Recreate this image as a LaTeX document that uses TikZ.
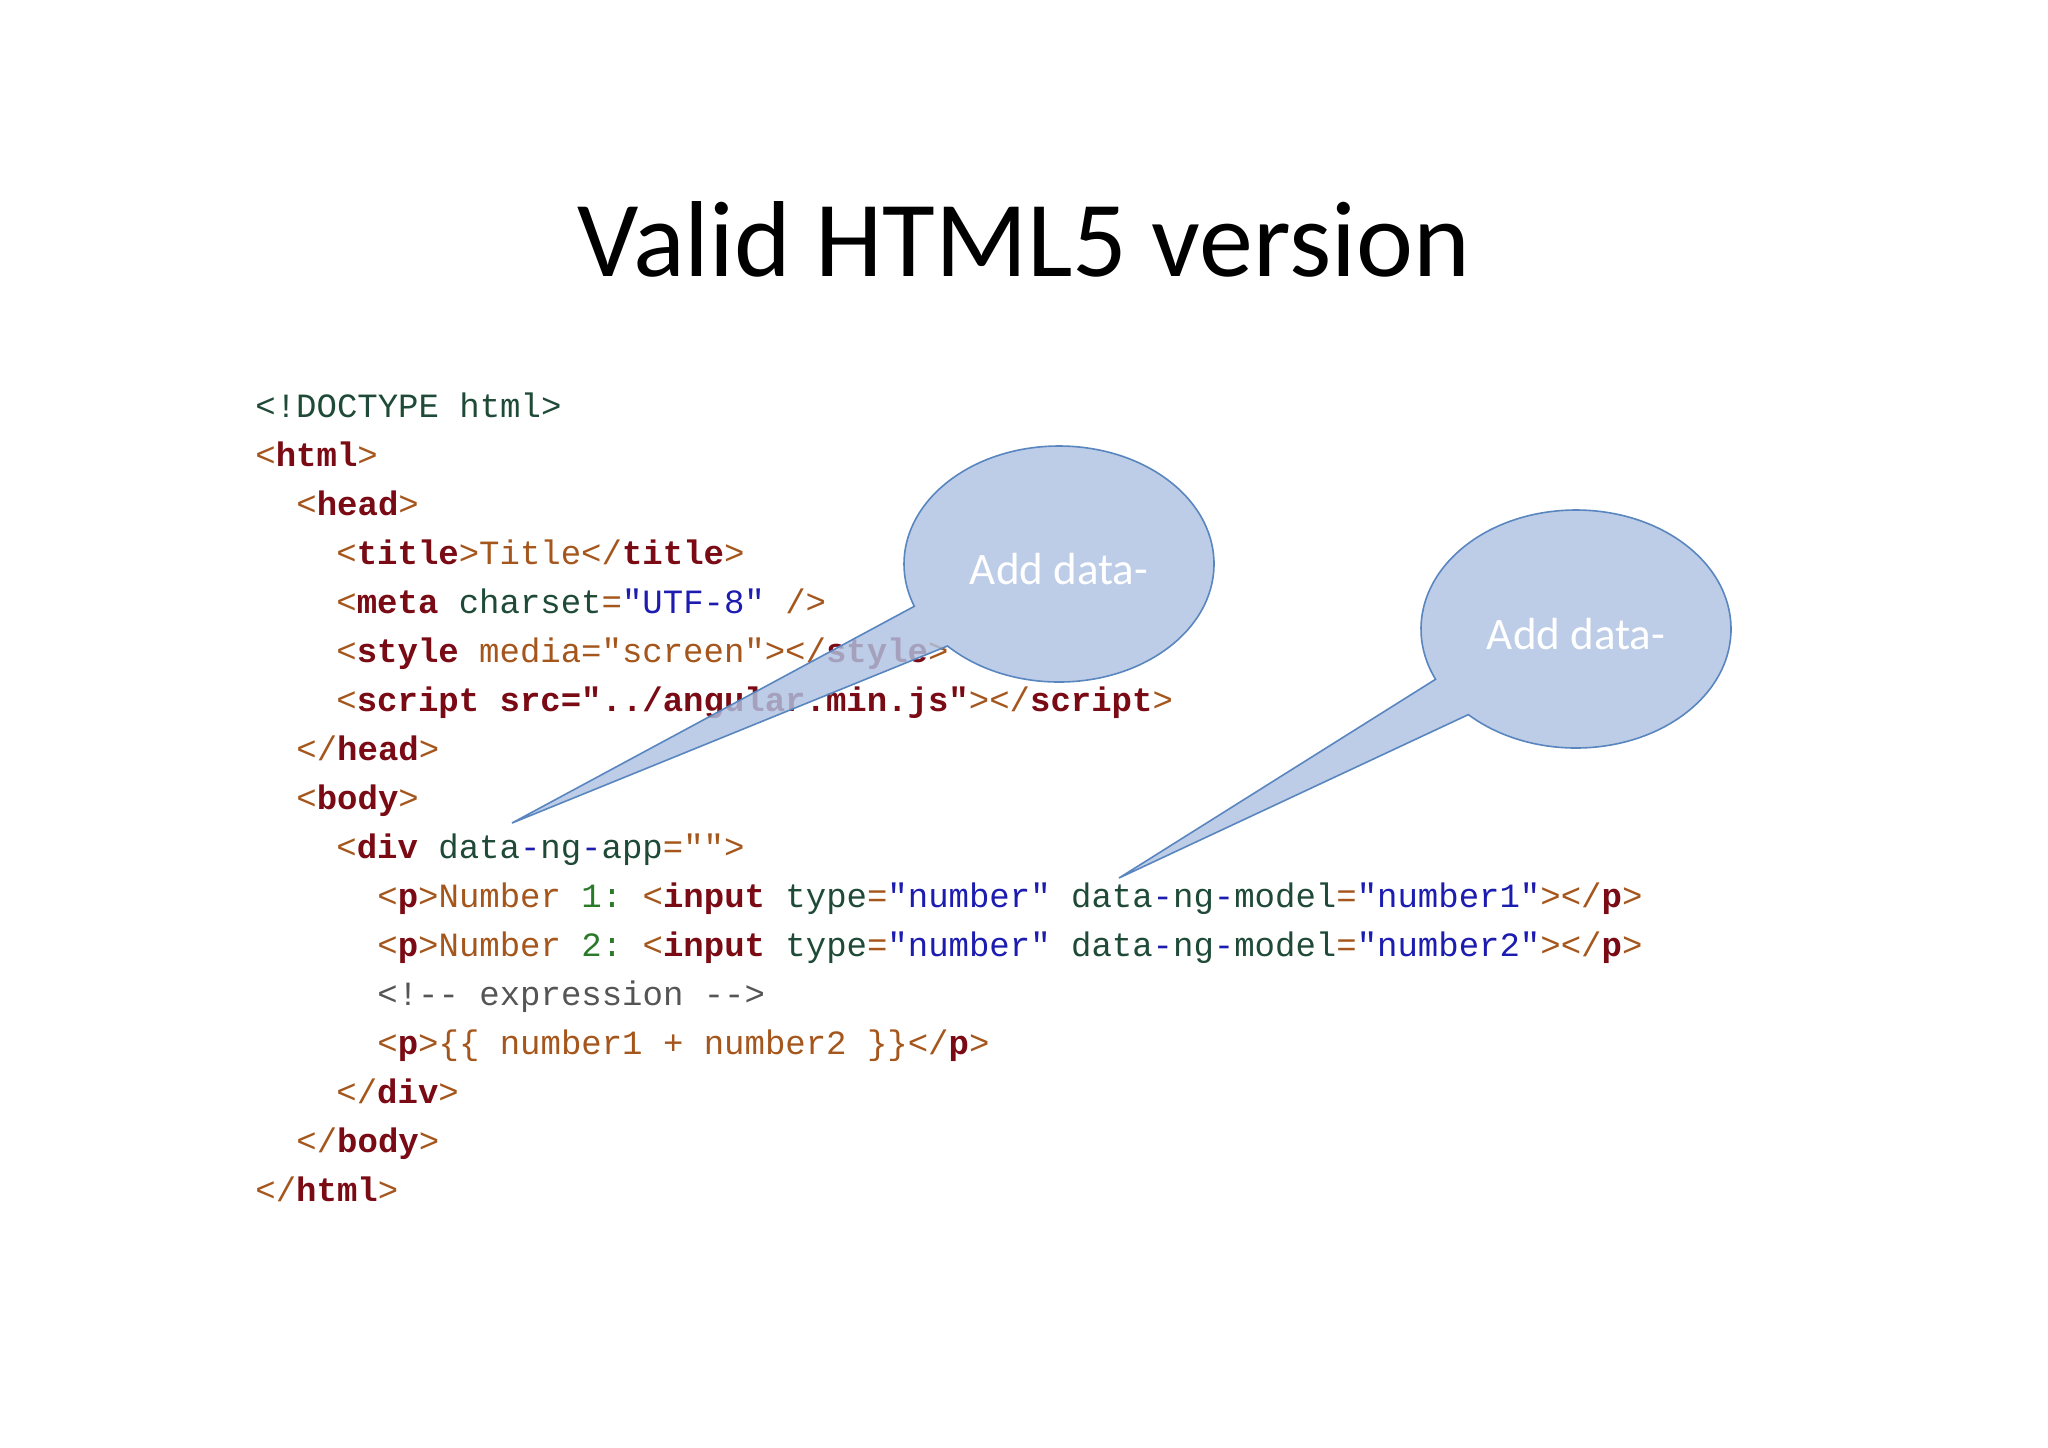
\documentclass[tikz,border=0pt]{standalone}
\usepackage{fontspec}
\usetikzlibrary{calc}
\setmainfont{Carlito}
\setmonofont{Liberation Mono}
\definecolor{tagc}{HTML}{7A0A14}
\definecolor{brk}{HTML}{A5561C}
\definecolor{attr}{HTML}{1E4A37}
\definecolor{valc}{HTML}{1C1CB0}
\definecolor{gr}{HTML}{2A7A2A}
\definecolor{cmt}{HTML}{555555}
\definecolor{bfill}{HTML}{AFC3E3}
\definecolor{bdraw}{HTML}{5A86C0}
\newcommand{\Tg}[1]{\textcolor{tagc}{\bfseries #1}}
\newcommand{\Bk}[1]{\textcolor{brk}{#1}}
\newcommand{\At}[1]{\textcolor{attr}{#1}}
\newcommand{\Vl}[1]{\textcolor{valc}{#1}}
\begin{document}
\begin{tikzpicture}[x=0.5pt,y=-0.5pt,
  codeline/.style={anchor=base west,inner sep=0pt,font=\ttfamily\fontsize{17}{17}\selectfont},
  bubble/.style={fill=bfill,fill opacity=0.82,draw=bdraw,line width=0.8pt},
  btext/.style={text=white,font=\fontsize{22.5}{22.5}\selectfont}]
\useasboundingbox (0,0) rectangle (2048,1447);
\fill[white] (0,0) rectangle (2048,1447);
\node[font=\fontsize{54}{54}\selectfont] (title) at (1024,239) {Valid HTML5 version};
\node[codeline] (l0) at (255,417) {\At{<!DOCTYPE html>}};
\node[codeline] (l1) at (255,466) {\Bk{<}\Tg{html}\Bk{>}};
\node[codeline] (l2) at (296,515) {\Bk{<}\Tg{head}\Bk{>}};
\node[codeline] (l3) at (336,564) {\Bk{<}\Tg{title}\Bk{>Title</}\Tg{title}\Bk{>}};
\node[codeline] (l4) at (336,613) {\Bk{<}\Tg{meta} \At{charset}\Bk{=}\Vl{"UTF-8"} \Bk{/>}};
\node[codeline] (l5) at (336,662) {\Bk{<}\Tg{style} \Bk{media="screen"></}\Tg{style}\Bk{>}};
\node[codeline] (l6) at (336,711) {\Bk{<}\Tg{script src="../angular.min.js"}\Bk{></}\Tg{script}\Bk{>}};
\node[codeline] (l7) at (296,760) {\Bk{</}\Tg{head}\Bk{>}};
\node[codeline] (l8) at (296,809) {\Bk{<}\Tg{body}\Bk{>}};
\node[codeline] (l9) at (336,858) {\Bk{<}\Tg{div} \At{data}\Vl{-}\At{ng}\Vl{-}\At{app}\Bk{="">}};
\node[codeline] (l10) at (377,907) {\Bk{<}\Tg{p}\Bk{>Number} \textcolor{gr}{1:} \Bk{<}\Tg{input} \At{type}\Bk{=}\Vl{"number"} \At{data}\Vl{-}\At{ng}\Vl{-}\At{model}\Bk{=}\Vl{"number1"}\Bk{></}\Tg{p}\Bk{>}};
\node[codeline] (l11) at (377,956) {\Bk{<}\Tg{p}\Bk{>Number} \textcolor{gr}{2:} \Bk{<}\Tg{input} \At{type}\Bk{=}\Vl{"number"} \At{data}\Vl{-}\At{ng}\Vl{-}\At{model}\Bk{=}\Vl{"number2"}\Bk{></}\Tg{p}\Bk{>}};
\node[codeline] (l12) at (377,1005) {\textcolor{cmt}{<!-{}- expression -{}->}};
\node[codeline] (l13) at (377,1054) {\Bk{<}\Tg{p}\Bk{>\{\{ number1 + number2 \}\}</}\Tg{p}\Bk{>}};
\node[codeline] (l14) at (336,1103) {\Bk{</}\Tg{div}\Bk{>}};
\node[codeline] (l15) at (296,1152) {\Bk{</}\Tg{body}\Bk{>}};
\node[codeline] (l16) at (255,1201) {\Bk{</}\Tg{html}\Bk{>}};
% bubble 1
\coordinate (c1) at (1059,564);
\coordinate (tip1) at (512,823);
\draw[bubble] ($(c1)+(159:155 and 118)$) -- (tip1) -- ($(c1)+(136:155 and 118)$)
  arc[start angle=136,end angle=-201,x radius=155,y radius=118] -- cycle;
\node[btext] (b1) at (1059,569) {Add data-};
% bubble 2
\coordinate (c2) at (1576,629);
\coordinate (tip2) at (1119,878);
\draw[bubble] ($(c2)+(155:155 and 119)$) -- (tip2) -- ($(c2)+(134:155 and 119)$)
  arc[start angle=134,end angle=-205,x radius=155,y radius=119] -- cycle;
\node[btext] (b2) at (1576,634) {Add data-};
\end{tikzpicture}
\end{document}
